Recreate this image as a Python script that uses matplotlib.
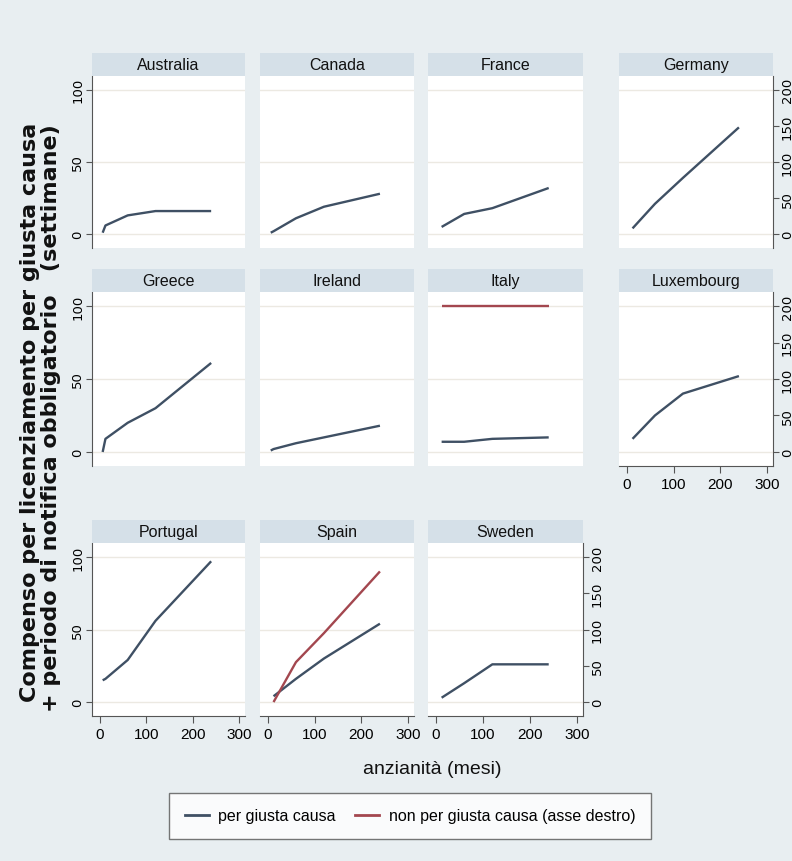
import numpy as np
import matplotlib
matplotlib.use("Agg")
import matplotlib.pyplot as plt
from matplotlib.patches import Rectangle
from matplotlib.lines import Line2D

nan = np.nan

# anzianità (mesi)
mesi = [6, 12, 60, 120, 240]

# per giusta causa (settimane, asse sinistro)
australia = [1, 6, 13, 16, 16]
canada = [1, 2, 11, 19, 28]
france = [nan, 5, 14, 18, 32]
germany = [nan, 4, 21, 39, 74]
greece = [0, 9, 20, 30, 61]
ireland = [1, 2, 6, 10, 18]
italy = [nan, 7, 7, 9, 10]
luxembourg = [nan, 9, 25, 40, 52]
portugal = [15, 16, 29, 56, 97]
spain = [nan, 4, 16, 30, 54]
sweden = [nan, 3, 13, 26, 26]

# non per giusta causa (asse destro)
italy_ng = [nan, 200, 200, 200, 200]
spain_ng = [nan, 0, 55, 95, 180]

paesi = ['Australia', 'Canada', 'France', 'Germany', 'Greece', 'Ireland',
         'Italy', 'Luxembourg', 'Portugal', 'Spain', 'Sweden']
giusta = [australia, canada, france, germany, greece, ireland,
          italy, luxembourg, portugal, spain, sweden]
non_giusta = {'Italy': italy_ng, 'Spain': spain_ng}

xticks = [0, 100, 200, 300]
yticks = [0, 50, 100]
yticks_r = [0, 50, 100, 150, 200]

BLU = '#3f5064'
ROSSO = '#a3474f'
SFONDO = '#e8eef1'
STRISCIA = '#d5e0e8'
ASSE = '#555555'
NARROW = ['Liberation Sans', 'DejaVu Sans']
WIDE = ['DejaVu Sans']

W, H = 792, 862
fig = plt.figure(figsize=(W / 100, H / 100), dpi=100, facecolor=SFONDO)

cols_l = [92, 260, 428, 619]
cols_r = [245, 414, 583, 773]
rows_t = [77, 293, 544]
rows_b = [249, 467, 717]
strip_h = 23


def box(l, t, r, b):
    return [l / W, 1 - b / H, (r - l) / W, (b - t) / H]


for i, (nome, vals) in enumerate(zip(paesi, giusta)):
    row, col = i // 4, i % 4
    l, r = cols_l[col], cols_r[col]
    t, b = rows_t[row], rows_b[row]
    ax = fig.add_axes(box(l, t, r, b))
    ax.set_facecolor('white')
    ax.set_xlim(-17, 313)
    ax.set_ylim(-9.6, 109.6)
    ax.set_xticks(xticks)
    ax.set_yticks(yticks)
    ax.grid(axis='y', color='#ece9e2', lw=1.0)
    ax.set_axisbelow(True)
    for s in ax.spines.values():
        s.set_visible(False)

    show_left = col == 0
    show_x = row == 2 or nome == 'Luxembourg'
    show_right = col == 3 or nome == 'Sweden'

    ax.plot(mesi, vals, color=BLU, lw=1.7, solid_capstyle='butt')

    # asse destro (twinx riattiva i tick a sinistra, quindi va prima)
    if show_right or nome in non_giusta:
        tw = ax.twinx()
        tw.set_ylim(-19.2, 219.2)
        tw.set_yticks(yticks_r)
        for s in tw.spines.values():
            s.set_visible(False)
        tw.tick_params(axis='y', left=False, labelleft=False,
                       right=show_right, labelright=show_right,
                       length=4, width=0.8, color=ASSE, labelsize=9.5,
                       pad=1.5)
        tw.tick_params(axis='x', bottom=False, labelbottom=False, top=False,
                       labeltop=False)
        if show_right:
            tw.spines['right'].set_visible(True)
            tw.spines['right'].set_color(ASSE)
            for lab in tw.get_yticklabels():
                lab.set_rotation(90)
                lab.set_va('center')
                lab.set_family(WIDE)
        if nome in non_giusta:
            tw.plot(mesi, non_giusta[nome], color=ROSSO, lw=1.7,
                    solid_capstyle='butt')

    ax.tick_params(axis='y', left=show_left, labelleft=show_left,
                   right=False, labelright=False, length=4,
                   width=0.8, color=ASSE, labelsize=9.5, pad=1.5)
    ax.tick_params(axis='x', bottom=show_x, labelbottom=show_x, top=False,
                   labeltop=False, length=5, width=0.8, color=ASSE,
                   labelsize=11, pad=3)
    if show_left:
        ax.spines['left'].set_visible(True)
        ax.spines['left'].set_color(ASSE)
        for lab in ax.get_yticklabels():
            lab.set_rotation(90)
            lab.set_va('center')
            lab.set_family(WIDE)
    if show_x:
        ax.spines['bottom'].set_visible(True)
        ax.spines['bottom'].set_color(ASSE)
        for lab in ax.get_xticklabels():
            lab.set_family(NARROW)

    # striscia del titolo
    fig.patches.append(Rectangle((l / W, 1 - t / H), (r - l) / W, strip_h / H,
                                 transform=fig.transFigure,
                                 facecolor=STRISCIA, edgecolor='none'))
    fig.text((l + r) / 2 / W, 1 - (t - strip_h / 2) / H, nome,
             ha='center', va='center', fontsize=11.5, family=NARROW,
             color='#111111')

# titolo asse x
fig.text(432 / W, 1 - 770 / H, 'anzianità (mesi)', ha='center', va='center',
         fontsize=14, family=NARROW, color='#111111')

# titolo asse y
fig.text(30 / W, 1 - 412 / H, 'Compenso per licenziamento per giusta causa',
         rotation=90, ha='center', va='center', fontsize=16,
         fontweight='bold', family=WIDE, color='#111111')
fig.text(51 / W, 1 - 418 / H,
         '+ periodo di notifica obbligatorio   (settimane)',
         rotation=90, ha='center', va='center', fontsize=16,
         fontweight='bold', family=WIDE, color='#111111')

handles = [Line2D([], [], color=BLU, lw=2), Line2D([], [], color=ROSSO, lw=2)]
leg = fig.legend(handles, ['per giusta causa',
                           'non per giusta causa (asse destro)'],
                 loc='center', bbox_to_anchor=(410 / W, 1 - 817 / H), ncol=2,
                 frameon=True, fancybox=False, edgecolor=ASSE,
                 handlelength=1.5, columnspacing=1.2, borderpad=1.0,
                 handletextpad=0.6, prop={'family': NARROW, 'size': 11.5})
leg.get_frame().set_linewidth(1.0)

fig.savefig('out.png', dpi=100, facecolor=SFONDO)
